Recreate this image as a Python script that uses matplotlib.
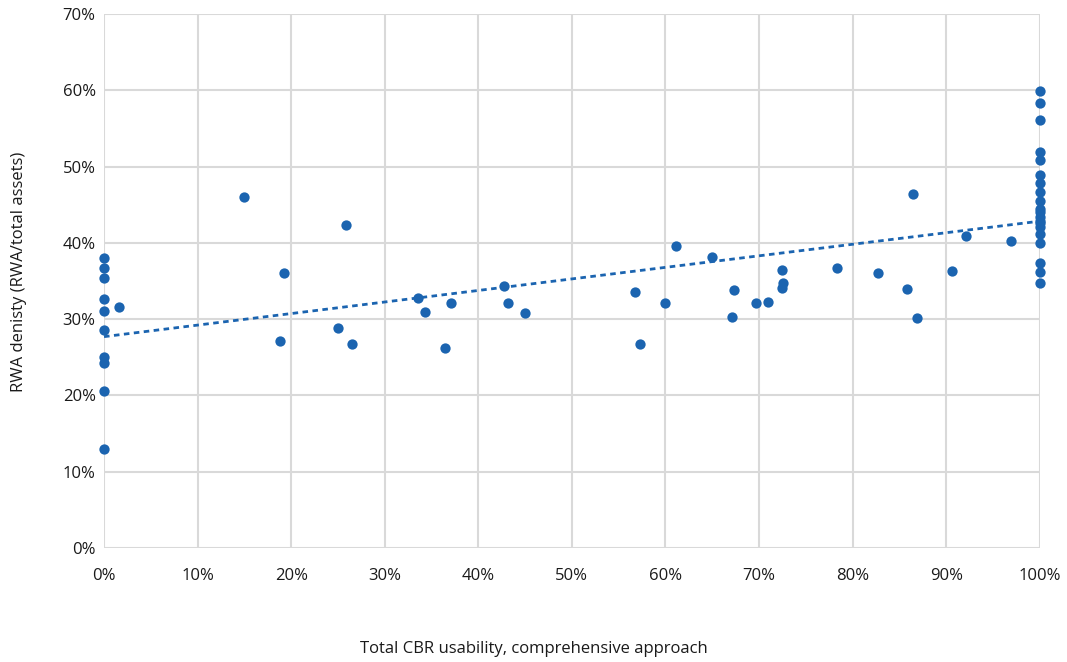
import numpy as np
import matplotlib.pyplot as plt
from matplotlib.ticker import PercentFormatter, MultipleLocator

plt.rcParams["font.family"] = ["Open Sans", "DejaVu Sans"]

# total CBR usability (%) and RWA density (%)
usability = [
    0, 0, 0, 0, 0, 0, 0, 0, 0, 0, 1.6,
    15.0, 18.8, 19.2, 25.0, 25.9, 26.5,
    33.6, 34.3, 36.4, 37.1, 42.7, 43.2, 45.0,
    56.7, 57.3, 59.9, 61.1, 65.0, 67.1, 67.3, 69.7, 71.0,
    72.4, 72.4, 72.6, 78.3, 82.7, 85.8, 86.5, 86.9, 90.6, 92.1, 96.9,
    100, 100, 100, 100, 100, 100, 100, 100, 100, 100, 100, 100, 100,
    100, 100, 100, 100, 100, 100, 100,
]
density = [
    38.0, 36.7, 35.4, 32.7, 31.1, 28.6, 25.1, 24.3, 20.6, 13.0, 31.6,
    46.0, 27.1, 36.0, 28.9, 42.4, 26.8,
    32.8, 31.0, 26.2, 32.1, 34.4, 32.1, 30.8,
    33.6, 26.8, 32.1, 39.6, 38.1, 30.3, 33.8, 32.1, 32.2,
    36.4, 34.1, 34.8, 36.7, 36.0, 33.9, 46.4, 30.1, 36.3, 40.9, 40.3,
    59.9, 58.3, 56.1, 51.9, 50.9, 48.9, 47.8, 46.6, 45.5, 44.5, 44.0, 43.4,
    42.9, 42.6, 42.1, 41.1, 40.0, 37.4, 36.2, 34.8,
]

x = np.array(usability)
y = np.array(density)
blue = "#1b64b0"
txt = "#1a1a1a"

fig = plt.figure(figsize=(10.67, 6.62), dpi=100)
ax = fig.add_axes([0.0975, 0.172, 0.877, 0.807])

ax.scatter(x, y, s=55, color=blue, zorder=3, clip_on=False, linewidths=0)

# linear trend line
slope, icpt = np.polyfit(x, y, 1)
xs = np.array([0, 100])
ax.plot(xs, icpt + slope * xs, color=blue, lw=2, ls=(0, (2, 1.6)), zorder=2)

ax.set_xlim(0, 100)
ax.set_ylim(0, 70)
ax.xaxis.set_major_locator(MultipleLocator(10))
ax.yaxis.set_major_locator(MultipleLocator(10))
ax.xaxis.set_major_formatter(PercentFormatter(decimals=0))
ax.yaxis.set_major_formatter(PercentFormatter(decimals=0))
ax.grid(True, color="#d9d9d9", lw=1.5)
ax.set_axisbelow(True)
for s in ax.spines.values():
    s.set_visible(False)
ax.tick_params(length=0, labelsize=12, colors=txt, pad=14)
ax.tick_params(axis="y", pad=6)

fig.text(0.5, 0.007, "Total CBR usability, comprehensive approach", fontsize=12,
         color=txt, ha="center", va="bottom")
fig.text(0.018, 0.589, "RWA denisty (RWA/total assets)", fontsize=12,
         color=txt, ha="center", va="center", rotation=90)

fig.savefig("out.png", dpi=100)
